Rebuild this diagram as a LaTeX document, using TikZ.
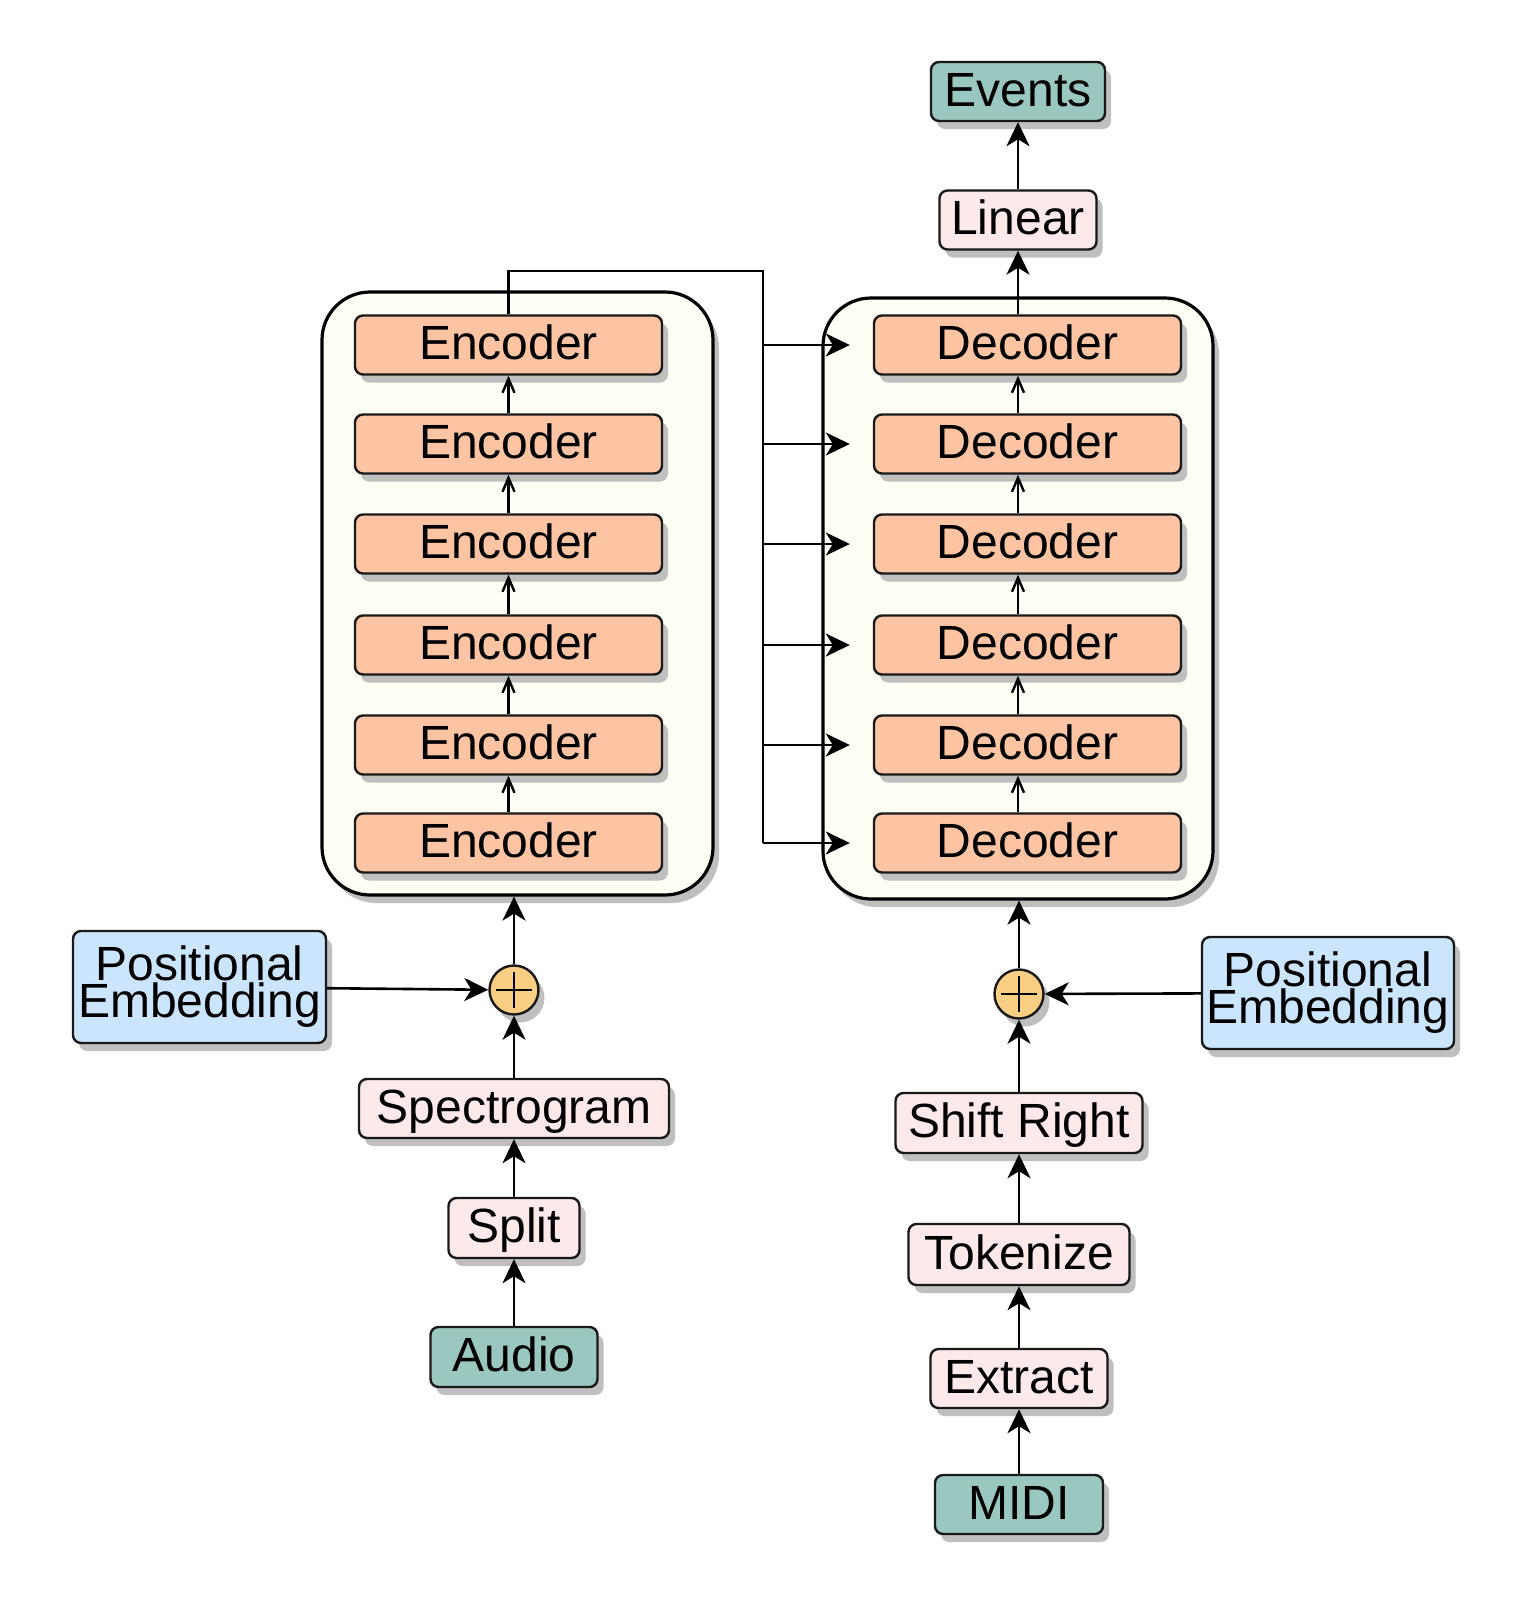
\documentclass[tikz,border=0pt]{standalone}
\usepackage{fontspec}
\setmainfont{Liberation Sans}
\usetikzlibrary{arrows.meta,shadows}

\definecolor{encfill}{HTML}{FCC4A3}
\definecolor{stackfill}{HTML}{FEFFF4}
\definecolor{pinkfill}{HTML}{FDE8EA}
\definecolor{tealfill}{HTML}{9AC7BF}
\definecolor{bluefill}{HTML}{CCE5FF}
\definecolor{sumfill}{HTML}{F8CE82}

\tikzset{
  dshadow/.style={drop shadow={shadow xshift=3pt,shadow yshift=-4pt,fill=black!25,opacity=1}},
  block/.style={draw=black!90,line width=1.2pt,rounded corners=4pt,dshadow,inner sep=0pt,
    font=\fontsize{24}{18.5}\selectfont},
  lbl/.style={text height=17.5pt,text depth=3pt},
  layer/.style={block,lbl,fill=encfill,minimum width=153.5pt,minimum height=29.5pt},
  op/.style={block,lbl,fill=pinkfill,minimum height=29.5pt},
  io/.style={block,lbl,fill=tealfill,minimum height=29.5pt},
  posbox/.style={block,fill=bluefill,align=center,minimum width=126.5pt,minimum height=56pt},
  stack/.style={draw,line width=1.6pt,rounded corners=24pt,fill=stackfill,dshadow},
  sum/.style={circle,draw=black!90,line width=1.2pt,fill=sumfill,minimum size=24.5pt,inner sep=0pt,dshadow},
  arr/.style={-{Stealth[length=12pt,width=11.5pt,inset=3.5pt]},line width=1.3pt},
  link/.style={-{Straight Barb[length=7pt,width=6pt]},line width=1.2pt}
}

\begin{document}
\begin{tikzpicture}[x=0.5pt,y=-0.5pt]
\useasboundingbox (0,0) rectangle (1527,1608);

% encoder stack
\node[stack,minimum width=195.5pt,minimum height=301.5pt] (enc) at (517.5,593.5) {};
\node[layer] (e1) at (508.5,843) {Encoder};
\node[layer] (e2) at (508.5,745) {Encoder};
\node[layer] (e3) at (508.5,645) {Encoder};
\node[layer] (e4) at (508.5,544) {Encoder};
\node[layer] (e5) at (508.5,444) {Encoder};
\node[layer] (e6) at (508.5,345) {Encoder};

\draw[link] (e1.north) -- (e2.south);
\draw[link] (e2.north) -- (e3.south);
\draw[link] (e3.north) -- (e4.south);
\draw[link] (e4.north) -- (e5.south);
\draw[link] (e5.north) -- (e6.south);

% decoder stack
\node[stack,minimum width=195pt,minimum height=300.5pt] (dec) at (1018,598.5) {};
\node[layer] (d1) at (1027.5,843) {Decoder};
\node[layer] (d2) at (1027.5,745) {Decoder};
\node[layer] (d3) at (1027.5,645) {Decoder};
\node[layer] (d4) at (1027.5,544) {Decoder};
\node[layer] (d5) at (1027.5,444) {Decoder};
\node[layer] (d6) at (1027.5,345) {Decoder};

\draw[link] ([xshift=-4.75pt]d1.north) -- ([xshift=-4.75pt]d2.south);
\draw[link] ([xshift=-4.75pt]d2.north) -- ([xshift=-4.75pt]d3.south);
\draw[link] ([xshift=-4.75pt]d3.north) -- ([xshift=-4.75pt]d4.south);
\draw[link] ([xshift=-4.75pt]d4.north) -- ([xshift=-4.75pt]d5.south);
\draw[link] ([xshift=-4.75pt]d5.north) -- ([xshift=-4.75pt]d6.south);

% encoder output to every decoder
\coordinate (bus) at (763,271);
\draw[line width=1.3pt] (e6.north) |- (bus) -- (bus |- d1);
\draw[arr] (bus |- d1) -- ([xshift=-11.5pt]d1.west);
\draw[arr] (bus |- d2) -- ([xshift=-11.5pt]d2.west);
\draw[arr] (bus |- d3) -- ([xshift=-11.5pt]d3.west);
\draw[arr] (bus |- d4) -- ([xshift=-11.5pt]d4.west);
\draw[arr] (bus |- d5) -- ([xshift=-11.5pt]d5.west);
\draw[arr] (bus |- d6) -- ([xshift=-11.5pt]d6.west);

% output
\node[op,minimum width=78.5pt] (lin) at (1018,220) {Linear};
\node[io,minimum width=87pt] (ev) at (1018,91.5) {Events};
\draw[arr] (lin.south |- d6.north) -- (lin.south);
\draw[arr] (lin) -- (ev);

% audio input
\node[sum] (sl) at (514,990) {};
\draw[line width=1.2pt] ([xshift=-9pt]sl.center) -- ([xshift=9pt]sl.center);
\draw[line width=1.2pt] ([yshift=-9pt]sl.center) -- ([yshift=9pt]sl.center);
\node[op,minimum width=155pt] (spec) at (514,1108.5) {Spectrogram};
\node[op,minimum width=65.5pt,minimum height=30pt] (split) at (514,1228) {Split};
\node[io,minimum width=83.5pt,minimum height=30pt] (aud) at (514,1357) {Audio};
\node[posbox] (pl) at (199.5,987) {Positional\\Embedding};

\draw[arr] (aud) -- (split);
\draw[arr] (split) -- (spec);
\draw[arr] (spec) -- (sl);
\draw[arr] (pl) -- (sl);
\draw[arr] (sl) -- (sl |- enc.south);

% midi input
\node[sum] (sr) at (1019,994) {};
\draw[line width=1.2pt] ([xshift=-9pt]sr.center) -- ([xshift=9pt]sr.center);
\draw[line width=1.2pt] ([yshift=-9pt]sr.center) -- ([yshift=9pt]sr.center);
\node[op,minimum width=123.5pt,minimum height=30pt] (shift) at (1019,1123) {Shift Right};
\node[op,minimum width=110.5pt,minimum height=30.5pt] (tok) at (1019,1254.5) {Tokenize};
\node[op,minimum width=88.5pt] (ext) at (1019,1378.5) {Extract};
\node[io,minimum width=84pt] (midi) at (1019,1504.5) {MIDI};
\node[posbox,minimum width=126pt] (pr) at (1328,993) {Positional\\Embedding};

\draw[arr] (midi) -- (ext);
\draw[arr] (ext) -- (tok);
\draw[arr] (tok) -- (shift);
\draw[arr] (shift) -- (sr);
\draw[arr] (pr) -- (sr);
\draw[arr] (sr) -- (sr |- dec.south);
\end{tikzpicture}
\end{document}
